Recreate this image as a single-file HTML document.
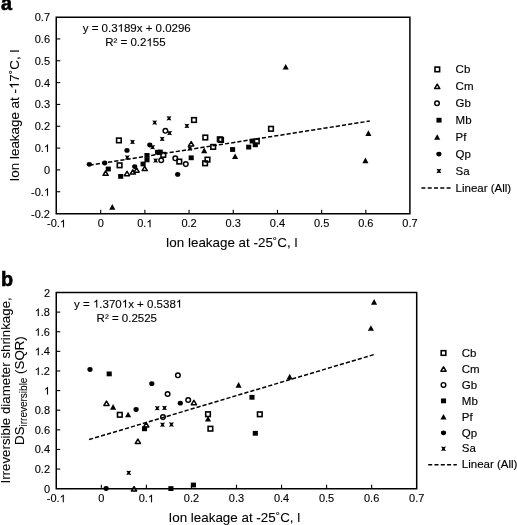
<!DOCTYPE html><html><head><meta charset="utf-8"><style>html,body{margin:0;padding:0;background:#fff;width:517px;height:525px;overflow:hidden}svg{display:block;will-change:transform}text{font-family:"Liberation Sans",sans-serif;fill:#000;stroke:#000;stroke-width:0.15px}.tk{stroke-width:0.12px}.ti{stroke-width:0.08px}.eq{stroke-width:0.12px}.pl{stroke-width:0.6px}.h1{fill:transparent!important;stroke:none!important}</style></head><body>
<svg width="517" height="525" viewBox="0 0 517 525">
<rect width="517" height="525" fill="#fff"/>
<line x1="89.60" y1="165.20" x2="369.80" y2="121.05" stroke="#000" stroke-width="1.5" stroke-dasharray="4.2 2.03"/>
<rect x="105.75" y="166.60" width="5.10" height="4.80" fill="#000"/>
<rect x="118.15" y="174.00" width="5.10" height="4.80" fill="#000"/>
<rect x="140.55" y="161.60" width="5.10" height="4.80" fill="#000"/>
<rect x="144.45" y="153.00" width="5.10" height="4.80" fill="#000"/>
<rect x="144.45" y="157.50" width="5.10" height="4.80" fill="#000"/>
<rect x="155.05" y="149.90" width="5.10" height="4.80" fill="#000"/>
<rect x="157.65" y="149.60" width="5.10" height="4.80" fill="#000"/>
<rect x="188.65" y="155.40" width="5.10" height="4.80" fill="#000"/>
<rect x="230.05" y="147.10" width="5.10" height="4.80" fill="#000"/>
<rect x="249.65" y="138.70" width="5.10" height="4.80" fill="#000"/>
<rect x="252.75" y="142.40" width="5.10" height="4.80" fill="#000"/>
<rect x="246.15" y="144.70" width="5.10" height="4.80" fill="#000"/>
<path d="M204.20 147.50L207.25 153.15L201.15 153.15Z" fill="#000"/>
<path d="M235.10 153.40L238.15 159.05L232.05 159.05Z" fill="#000"/>
<path d="M285.70 63.90L288.75 69.55L282.65 69.55Z" fill="#000"/>
<path d="M368.40 130.30L371.45 135.95L365.35 135.95Z" fill="#000"/>
<path d="M365.40 157.60L368.45 163.25L362.35 163.25Z" fill="#000"/>
<path d="M112.30 204.00L115.35 209.65L109.25 209.65Z" fill="#000"/>
<ellipse cx="89.30" cy="164.30" rx="2.60" ry="2.40" fill="#000"/>
<ellipse cx="104.70" cy="163.00" rx="2.60" ry="2.40" fill="#000"/>
<ellipse cx="127.00" cy="150.40" rx="2.60" ry="2.40" fill="#000"/>
<ellipse cx="134.70" cy="166.60" rx="2.60" ry="2.40" fill="#000"/>
<ellipse cx="149.80" cy="145.00" rx="2.60" ry="2.40" fill="#000"/>
<ellipse cx="177.70" cy="174.40" rx="2.60" ry="2.40" fill="#000"/>
<path d="M130.05 139.75L132.50 140.15L134.95 139.75L133.65 141.90L134.95 144.05L132.50 143.65L130.05 144.05L131.35 141.90Z" fill="#000"/>
<path d="M124.85 155.35L127.30 155.75L129.75 155.35L128.45 157.50L129.75 159.65L127.30 159.25L124.85 159.65L126.15 157.50Z" fill="#000"/>
<path d="M152.25 120.45L154.70 120.85L157.15 120.45L155.85 122.60L157.15 124.75L154.70 124.35L152.25 124.75L153.55 122.60Z" fill="#000"/>
<path d="M166.55 116.15L169.00 116.55L171.45 116.15L170.15 118.30L171.45 120.45L169.00 120.05L166.55 120.45L167.85 118.30Z" fill="#000"/>
<path d="M184.45 123.75L186.90 124.15L189.35 123.75L188.05 125.90L189.35 128.05L186.90 127.65L184.45 128.05L185.75 125.90Z" fill="#000"/>
<path d="M167.15 130.95L169.60 131.35L172.05 130.95L170.75 133.10L172.05 135.25L169.60 134.85L167.15 135.25L168.45 133.10Z" fill="#000"/>
<path d="M159.75 136.75L162.20 137.15L164.65 136.75L163.35 138.90L164.65 141.05L162.20 140.65L159.75 141.05L161.05 138.90Z" fill="#000"/>
<path d="M150.15 145.05L152.60 145.45L155.05 145.05L153.75 147.20L155.05 149.35L152.60 148.95L150.15 149.35L151.45 147.20Z" fill="#000"/>
<path d="M153.15 158.45L155.60 158.85L158.05 158.45L156.75 160.60L158.05 162.75L155.60 162.35L153.15 162.75L154.45 160.60Z" fill="#000"/>
<path d="M187.35 146.35L189.80 146.75L192.25 146.35L190.95 148.50L192.25 150.65L189.80 150.25L187.35 150.65L188.65 148.50Z" fill="#000"/>
<rect x="116.60" y="138.10" width="4.60" height="4.60" fill="none" stroke="#000" stroke-width="1.6"/>
<rect x="117.30" y="163.00" width="4.60" height="4.60" fill="none" stroke="#000" stroke-width="1.6"/>
<rect x="191.70" y="117.70" width="4.60" height="4.60" fill="none" stroke="#000" stroke-width="1.6"/>
<rect x="177.00" y="159.30" width="4.60" height="4.60" fill="none" stroke="#000" stroke-width="1.6"/>
<rect x="203.00" y="135.20" width="4.60" height="4.60" fill="none" stroke="#000" stroke-width="1.6"/>
<rect x="210.90" y="144.60" width="4.60" height="4.60" fill="none" stroke="#000" stroke-width="1.6"/>
<rect x="218.70" y="137.60" width="4.60" height="4.60" fill="none" stroke="#000" stroke-width="1.6"/>
<rect x="205.20" y="157.30" width="4.60" height="4.60" fill="none" stroke="#000" stroke-width="1.6"/>
<rect x="202.80" y="161.00" width="4.60" height="4.60" fill="none" stroke="#000" stroke-width="1.6"/>
<rect x="217.50" y="137.00" width="4.60" height="4.60" fill="none" stroke="#000" stroke-width="1.6"/>
<rect x="268.70" y="126.50" width="4.60" height="4.60" fill="none" stroke="#000" stroke-width="1.6"/>
<rect x="254.50" y="139.00" width="4.60" height="4.60" fill="none" stroke="#000" stroke-width="1.6"/>
<rect x="161.00" y="152.60" width="4.60" height="4.60" fill="none" stroke="#000" stroke-width="1.6"/>
<path d="M105.60 171.00L108.20 175.30L103.00 175.30Z" fill="none" stroke="#000" stroke-width="1.5" stroke-linejoin="round"/>
<path d="M127.00 171.40L129.60 175.70L124.40 175.70Z" fill="none" stroke="#000" stroke-width="1.5" stroke-linejoin="round"/>
<path d="M132.80 169.80L135.40 174.10L130.20 174.10Z" fill="none" stroke="#000" stroke-width="1.5" stroke-linejoin="round"/>
<path d="M136.60 167.90L139.20 172.20L134.00 172.20Z" fill="none" stroke="#000" stroke-width="1.5" stroke-linejoin="round"/>
<path d="M144.70 166.30L147.30 170.60L142.10 170.60Z" fill="none" stroke="#000" stroke-width="1.5" stroke-linejoin="round"/>
<path d="M191.20 141.60L193.80 145.90L188.60 145.90Z" fill="none" stroke="#000" stroke-width="1.5" stroke-linejoin="round"/>
<circle cx="165.40" cy="130.80" r="2.30" fill="none" stroke="#000" stroke-width="1.45"/>
<circle cx="161.20" cy="160.20" r="2.30" fill="none" stroke="#000" stroke-width="1.45"/>
<circle cx="175.30" cy="158.30" r="2.30" fill="none" stroke="#000" stroke-width="1.45"/>
<circle cx="185.80" cy="164.10" r="2.30" fill="none" stroke="#000" stroke-width="1.45"/>
<path d="M56.25 17.25H409.9V213.8H56.25Z" fill="none" stroke="#000" stroke-width="1.5" stroke-linejoin="miter"/>
<text class="tk" x="50.00" y="217.57" font-size="11" text-anchor="end">-0.2</text>
<line x1="56.25" y1="191.74" x2="60.25" y2="191.74" stroke="#000" stroke-width="1.1"/>
<text class="tk" x="50.00" y="195.74" font-size="11" text-anchor="end">-0.<tspan class="h1">1</tspan></text>
<line x1="56.25" y1="169.91" x2="60.25" y2="169.91" stroke="#000" stroke-width="1.1"/>
<text class="tk" x="50.00" y="173.91" font-size="11" text-anchor="end">0</text>
<line x1="56.25" y1="148.08" x2="60.25" y2="148.08" stroke="#000" stroke-width="1.1"/>
<text class="tk" x="50.00" y="152.08" font-size="11" text-anchor="end">0.<tspan class="h1">1</tspan></text>
<line x1="56.25" y1="126.25" x2="60.25" y2="126.25" stroke="#000" stroke-width="1.1"/>
<text class="tk" x="50.00" y="130.25" font-size="11" text-anchor="end">0.2</text>
<line x1="56.25" y1="104.42" x2="60.25" y2="104.42" stroke="#000" stroke-width="1.1"/>
<text class="tk" x="50.00" y="108.42" font-size="11" text-anchor="end">0.3</text>
<line x1="56.25" y1="82.59" x2="60.25" y2="82.59" stroke="#000" stroke-width="1.1"/>
<text class="tk" x="50.00" y="86.59" font-size="11" text-anchor="end">0.4</text>
<line x1="56.25" y1="60.76" x2="60.25" y2="60.76" stroke="#000" stroke-width="1.1"/>
<text class="tk" x="50.00" y="64.76" font-size="11" text-anchor="end">0.5</text>
<line x1="56.25" y1="38.93" x2="60.25" y2="38.93" stroke="#000" stroke-width="1.1"/>
<text class="tk" x="50.00" y="42.93" font-size="11" text-anchor="end">0.6</text>
<text class="tk" x="50.00" y="21.10" font-size="11" text-anchor="end">0.7</text>
<text class="tk" x="56.50" y="227.30" font-size="11" text-anchor="middle">-0.<tspan class="h1">1</tspan></text>
<line x1="100.69" y1="213.8" x2="100.69" y2="209.80" stroke="#000" stroke-width="1.1"/>
<text class="tk" x="100.69" y="227.30" font-size="11" text-anchor="middle">0</text>
<line x1="144.88" y1="213.8" x2="144.88" y2="209.80" stroke="#000" stroke-width="1.1"/>
<text class="tk" x="144.88" y="227.30" font-size="11" text-anchor="middle">0.<tspan class="h1">1</tspan></text>
<line x1="189.07" y1="213.8" x2="189.07" y2="209.80" stroke="#000" stroke-width="1.1"/>
<text class="tk" x="189.07" y="227.30" font-size="11" text-anchor="middle">0.2</text>
<line x1="233.26" y1="213.8" x2="233.26" y2="209.80" stroke="#000" stroke-width="1.1"/>
<text class="tk" x="233.26" y="227.30" font-size="11" text-anchor="middle">0.3</text>
<line x1="277.45" y1="213.8" x2="277.45" y2="209.80" stroke="#000" stroke-width="1.1"/>
<text class="tk" x="277.45" y="227.30" font-size="11" text-anchor="middle">0.4</text>
<line x1="321.64" y1="213.8" x2="321.64" y2="209.80" stroke="#000" stroke-width="1.1"/>
<text class="tk" x="321.64" y="227.30" font-size="11" text-anchor="middle">0.5</text>
<line x1="365.83" y1="213.8" x2="365.83" y2="209.80" stroke="#000" stroke-width="1.1"/>
<text class="tk" x="365.83" y="227.30" font-size="11" text-anchor="middle">0.6</text>
<text class="tk" x="410.02" y="227.30" font-size="11" text-anchor="middle">0.7</text>
<text class="eq" x="82.7" y="31.8" font-size="11.5">y = 0.3<tspan class="h1">1</tspan>89x + 0.0296</text>
<text class="eq" x="105.2" y="46.2" font-size="11.5">R² = 0.2<tspan class="h1">1</tspan>55</text>
<rect x="435.00" y="67.10" width="4.60" height="4.60" fill="none" stroke="#000" stroke-width="1.6"/>
<text x="455.6" y="73.10" font-size="11.5">Cb</text>
<path d="M437.20 84.23L439.80 88.53L434.60 88.53Z" fill="none" stroke="#000" stroke-width="1.5" stroke-linejoin="round"/>
<text x="455.6" y="90.03" font-size="11.5">Cm</text>
<circle cx="437.00" cy="103.26" r="2.30" fill="none" stroke="#000" stroke-width="1.45"/>
<text x="455.6" y="106.96" font-size="11.5">Gb</text>
<rect x="436.45" y="117.79" width="5.10" height="4.80" fill="#000"/>
<text x="455.6" y="123.89" font-size="11.5">Mb</text>
<path d="M437.20 134.22L440.25 139.87L434.15 139.87Z" fill="#000"/>
<text x="455.6" y="140.82" font-size="11.5">Pf</text>
<ellipse cx="438.90" cy="154.05" rx="2.60" ry="2.40" fill="#000"/>
<text x="455.6" y="157.75" font-size="11.5">Qp</text>
<path d="M436.45 168.83L438.90 169.23L441.35 168.83L440.05 170.98L441.35 173.13L438.90 172.73L436.45 173.13L437.75 170.98Z" fill="#000"/>
<text x="455.6" y="174.68" font-size="11.5">Sa</text>
<line x1="421.4" y1="187.91" x2="450.6" y2="187.91" stroke="#000" stroke-width="1.5" stroke-dasharray="4 2.3"/>
<text x="455.6" y="191.61" font-size="11.5">Linear (All)</text>
<line x1="89.10" y1="439.57" x2="374.50" y2="354.42" stroke="#000" stroke-width="1.5" stroke-dasharray="4.2 2.03"/>
<rect x="106.65" y="371.50" width="5.10" height="4.80" fill="#000"/>
<rect x="141.95" y="426.40" width="5.10" height="4.80" fill="#000"/>
<rect x="249.45" y="394.90" width="5.10" height="4.80" fill="#000"/>
<rect x="252.75" y="430.90" width="5.10" height="4.80" fill="#000"/>
<rect x="168.35" y="486.20" width="5.10" height="4.80" fill="#000"/>
<rect x="190.85" y="482.60" width="5.10" height="4.80" fill="#000"/>
<path d="M113.10 404.10L116.15 409.75L110.05 409.75Z" fill="#000"/>
<path d="M128.10 411.70L131.15 417.35L125.05 417.35Z" fill="#000"/>
<path d="M238.60 382.10L241.65 387.75L235.55 387.75Z" fill="#000"/>
<path d="M208.00 415.90L211.05 421.55L204.95 421.55Z" fill="#000"/>
<path d="M289.70 373.80L292.75 379.45L286.65 379.45Z" fill="#000"/>
<path d="M370.90 325.20L373.95 330.85L367.85 330.85Z" fill="#000"/>
<path d="M374.10 299.10L377.15 304.75L371.05 304.75Z" fill="#000"/>
<ellipse cx="90.00" cy="369.50" rx="2.60" ry="2.40" fill="#000"/>
<ellipse cx="151.80" cy="383.70" rx="2.60" ry="2.40" fill="#000"/>
<ellipse cx="180.30" cy="403.20" rx="2.60" ry="2.40" fill="#000"/>
<ellipse cx="136.10" cy="409.50" rx="2.60" ry="2.40" fill="#000"/>
<ellipse cx="106.10" cy="488.50" rx="2.60" ry="2.40" fill="#000"/>
<path d="M154.85 406.05L157.30 406.45L159.75 406.05L158.45 408.20L159.75 410.35L157.30 409.95L154.85 410.35L156.15 408.20Z" fill="#000"/>
<path d="M162.05 405.75L164.50 406.15L166.95 405.75L165.65 407.90L166.95 410.05L164.50 409.65L162.05 410.05L163.35 407.90Z" fill="#000"/>
<path d="M160.05 422.55L162.50 422.95L164.95 422.55L163.65 424.70L164.95 426.85L162.50 426.45L160.05 426.85L161.35 424.70Z" fill="#000"/>
<path d="M168.95 422.35L171.40 422.75L173.85 422.35L172.55 424.50L173.85 426.65L171.40 426.25L168.95 426.65L170.25 424.50Z" fill="#000"/>
<path d="M126.25 470.65L128.70 471.05L131.15 470.65L129.85 472.80L131.15 474.95L128.70 474.55L126.25 474.95L127.55 472.80Z" fill="#000"/>
<rect x="117.50" y="412.50" width="4.60" height="4.60" fill="none" stroke="#000" stroke-width="1.6"/>
<rect x="205.70" y="411.90" width="4.60" height="4.60" fill="none" stroke="#000" stroke-width="1.6"/>
<rect x="208.10" y="426.40" width="4.60" height="4.60" fill="none" stroke="#000" stroke-width="1.6"/>
<rect x="257.50" y="412.00" width="4.60" height="4.60" fill="none" stroke="#000" stroke-width="1.6"/>
<path d="M106.50 401.10L109.10 405.40L103.90 405.40Z" fill="none" stroke="#000" stroke-width="1.5" stroke-linejoin="round"/>
<path d="M146.20 422.60L148.80 426.90L143.60 426.90Z" fill="none" stroke="#000" stroke-width="1.5" stroke-linejoin="round"/>
<path d="M137.90 439.10L140.50 443.40L135.30 443.40Z" fill="none" stroke="#000" stroke-width="1.5" stroke-linejoin="round"/>
<path d="M193.90 400.40L196.50 404.70L191.30 404.70Z" fill="none" stroke="#000" stroke-width="1.5" stroke-linejoin="round"/>
<path d="M134.00 486.70L136.60 491.00L131.40 491.00Z" fill="none" stroke="#000" stroke-width="1.5" stroke-linejoin="round"/>
<circle cx="177.90" cy="375.30" r="2.30" fill="none" stroke="#000" stroke-width="1.45"/>
<circle cx="167.60" cy="394.00" r="2.30" fill="none" stroke="#000" stroke-width="1.45"/>
<circle cx="188.20" cy="400.00" r="2.30" fill="none" stroke="#000" stroke-width="1.45"/>
<circle cx="163.00" cy="417.10" r="2.30" fill="none" stroke="#000" stroke-width="1.45"/>
<path d="M56.25 292.4H416.7V488.7H56.25Z" fill="none" stroke="#000" stroke-width="1.5" stroke-linejoin="miter"/>
<text class="tk" x="50.00" y="492.70" font-size="11" text-anchor="end">0</text>
<line x1="56.25" y1="469.08" x2="60.25" y2="469.08" stroke="#000" stroke-width="1.1"/>
<text class="tk" x="50.00" y="473.08" font-size="11" text-anchor="end">0.2</text>
<line x1="56.25" y1="449.46" x2="60.25" y2="449.46" stroke="#000" stroke-width="1.1"/>
<text class="tk" x="50.00" y="453.46" font-size="11" text-anchor="end">0.4</text>
<line x1="56.25" y1="429.84" x2="60.25" y2="429.84" stroke="#000" stroke-width="1.1"/>
<text class="tk" x="50.00" y="433.84" font-size="11" text-anchor="end">0.6</text>
<line x1="56.25" y1="410.22" x2="60.25" y2="410.22" stroke="#000" stroke-width="1.1"/>
<text class="tk" x="50.00" y="414.22" font-size="11" text-anchor="end">0.8</text>
<line x1="56.25" y1="390.60" x2="60.25" y2="390.60" stroke="#000" stroke-width="1.1"/>
<text class="tk" x="50.00" y="394.60" font-size="11" text-anchor="end"><tspan class="h1">1</tspan></text>
<line x1="56.25" y1="370.98" x2="60.25" y2="370.98" stroke="#000" stroke-width="1.1"/>
<text class="tk" x="50.00" y="374.98" font-size="11" text-anchor="end"><tspan class="h1">1</tspan>.2</text>
<line x1="56.25" y1="351.36" x2="60.25" y2="351.36" stroke="#000" stroke-width="1.1"/>
<text class="tk" x="50.00" y="355.36" font-size="11" text-anchor="end"><tspan class="h1">1</tspan>.4</text>
<line x1="56.25" y1="331.74" x2="60.25" y2="331.74" stroke="#000" stroke-width="1.1"/>
<text class="tk" x="50.00" y="335.74" font-size="11" text-anchor="end"><tspan class="h1">1</tspan>.6</text>
<line x1="56.25" y1="312.12" x2="60.25" y2="312.12" stroke="#000" stroke-width="1.1"/>
<text class="tk" x="50.00" y="316.12" font-size="11" text-anchor="end"><tspan class="h1">1</tspan>.8</text>
<text class="tk" x="50.00" y="296.50" font-size="11" text-anchor="end">2</text>
<text class="tk" x="56.30" y="502.20" font-size="11" text-anchor="middle">-0.<tspan class="h1">1</tspan></text>
<line x1="101.35" y1="488.7" x2="101.35" y2="484.70" stroke="#000" stroke-width="1.1"/>
<text class="tk" x="101.35" y="502.20" font-size="11" text-anchor="middle">0</text>
<line x1="146.40" y1="488.7" x2="146.40" y2="484.70" stroke="#000" stroke-width="1.1"/>
<text class="tk" x="146.40" y="502.20" font-size="11" text-anchor="middle">0.<tspan class="h1">1</tspan></text>
<line x1="191.45" y1="488.7" x2="191.45" y2="484.70" stroke="#000" stroke-width="1.1"/>
<text class="tk" x="191.45" y="502.20" font-size="11" text-anchor="middle">0.2</text>
<line x1="236.50" y1="488.7" x2="236.50" y2="484.70" stroke="#000" stroke-width="1.1"/>
<text class="tk" x="236.50" y="502.20" font-size="11" text-anchor="middle">0.3</text>
<line x1="281.55" y1="488.7" x2="281.55" y2="484.70" stroke="#000" stroke-width="1.1"/>
<text class="tk" x="281.55" y="502.20" font-size="11" text-anchor="middle">0.4</text>
<line x1="326.60" y1="488.7" x2="326.60" y2="484.70" stroke="#000" stroke-width="1.1"/>
<text class="tk" x="326.60" y="502.20" font-size="11" text-anchor="middle">0.5</text>
<line x1="371.65" y1="488.7" x2="371.65" y2="484.70" stroke="#000" stroke-width="1.1"/>
<text class="tk" x="371.65" y="502.20" font-size="11" text-anchor="middle">0.6</text>
<text class="tk" x="416.70" y="502.20" font-size="11" text-anchor="middle">0.7</text>
<text class="eq" x="74.1" y="307.6" font-size="11.5">y = <tspan class="h1">1</tspan>.370<tspan class="h1">1</tspan>x + 0.538<tspan class="h1">1</tspan></text>
<text class="eq" x="96.6" y="322.0" font-size="11.5">R² = 0.2525</text>
<rect x="441.20" y="350.70" width="4.60" height="4.60" fill="none" stroke="#000" stroke-width="1.6"/>
<text x="461.8" y="356.70" font-size="11.5">Cb</text>
<path d="M443.50 366.86L446.10 371.16L440.90 371.16Z" fill="none" stroke="#000" stroke-width="1.5" stroke-linejoin="round"/>
<text x="461.8" y="372.66" font-size="11.5">Cm</text>
<circle cx="443.50" cy="384.92" r="2.30" fill="none" stroke="#000" stroke-width="1.45"/>
<text x="461.8" y="388.62" font-size="11.5">Gb</text>
<rect x="440.95" y="398.48" width="5.10" height="4.80" fill="#000"/>
<text x="461.8" y="404.58" font-size="11.5">Mb</text>
<path d="M443.50 413.94L446.55 419.59L440.45 419.59Z" fill="#000"/>
<text x="461.8" y="420.54" font-size="11.5">Pf</text>
<ellipse cx="443.50" cy="432.80" rx="2.60" ry="2.40" fill="#000"/>
<text x="461.8" y="436.50" font-size="11.5">Qp</text>
<path d="M441.05 446.61L443.50 447.01L445.95 446.61L444.65 448.76L445.95 450.91L443.50 450.51L441.05 450.91L442.35 448.76Z" fill="#000"/>
<text x="461.8" y="452.46" font-size="11.5">Sa</text>
<line x1="428.2" y1="464.72" x2="456.8" y2="464.72" stroke="#000" stroke-width="1.5" stroke-dasharray="4 2.3"/>
<text x="461.8" y="468.42" font-size="11.5">Linear (All)</text>
<text class="pl" x="1.0" y="10.3" font-size="19.8" font-weight="bold">a</text>
<text class="pl" x="1.1" y="285.9" font-size="19.8" font-weight="bold">b</text>
<text class="ti" x="231.5" y="246.6" font-size="13.4" text-anchor="middle">Ion leakage at -25˚C, l</text>
<text class="ti" x="234.4" y="521.6" font-size="13.4" text-anchor="middle">Ion leakage at -25˚C, l</text>
<text class="ti" transform="translate(18.8 115.5) rotate(-90)" font-size="13.4" text-anchor="middle">Ion leakage at -<tspan class="h1">1</tspan>7˚C, l</text>
<text class="ti" transform="translate(9.6 390.4) rotate(-90)" font-size="13.3" text-anchor="middle">Irreversible diameter shrinkage,</text>
<text class="ti" transform="translate(23.5 390.6) rotate(-90)" font-size="13.3" text-anchor="middle">DS<tspan font-size="10" dy="3.4">irreversible</tspan><tspan dy="-3.4"> (SQR)</tspan></text>
<path d="M763 0L583 0L583 1102Q518 1043 416 984Q312 926 221 893L221 1060Q372 1128 484 1225Q597 1322 640 1409L763 1409Z" transform="translate(43.88 195.74) scale(0.005371 -0.005371)" fill="#000" stroke="#000" stroke-width="0.12" vector-effect="non-scaling-stroke"/>
<path d="M763 0L583 0L583 1102Q518 1043 416 984Q312 926 221 893L221 1060Q372 1128 484 1225Q597 1322 640 1409L763 1409Z" transform="translate(43.88 152.08) scale(0.005371 -0.005371)" fill="#000" stroke="#000" stroke-width="0.12" vector-effect="non-scaling-stroke"/>
<path d="M763 0L583 0L583 1102Q518 1043 416 984Q312 926 221 893L221 1060Q372 1128 484 1225Q597 1322 640 1409L763 1409Z" transform="translate(59.86 227.30) scale(0.005371 -0.005371)" fill="#000" stroke="#000" stroke-width="0.12" vector-effect="non-scaling-stroke"/>
<path d="M763 0L583 0L583 1102Q518 1043 416 984Q312 926 221 893L221 1060Q372 1128 484 1225Q597 1322 640 1409L763 1409Z" transform="translate(146.41 227.30) scale(0.005371 -0.005371)" fill="#000" stroke="#000" stroke-width="0.12" vector-effect="non-scaling-stroke"/>
<path d="M763 0L583 0L583 1102Q518 1043 416 984Q312 926 221 893L221 1060Q372 1128 484 1225Q597 1322 640 1409L763 1409Z" transform="translate(117.54 31.80) scale(0.005615 -0.005615)" fill="#000" stroke="#000" stroke-width="0.12" vector-effect="non-scaling-stroke"/>
<path d="M763 0L583 0L583 1102Q518 1043 416 984Q312 926 221 893L221 1060Q372 1128 484 1225Q597 1322 640 1409L763 1409Z" transform="translate(146.43 46.20) scale(0.005615 -0.005615)" fill="#000" stroke="#000" stroke-width="0.12" vector-effect="non-scaling-stroke"/>
<path d="M763 0L583 0L583 1102Q518 1043 416 984Q312 926 221 893L221 1060Q372 1128 484 1225Q597 1322 640 1409L763 1409Z" transform="translate(43.88 394.60) scale(0.005371 -0.005371)" fill="#000" stroke="#000" stroke-width="0.12" vector-effect="non-scaling-stroke"/>
<path d="M763 0L583 0L583 1102Q518 1043 416 984Q312 926 221 893L221 1060Q372 1128 484 1225Q597 1322 640 1409L763 1409Z" transform="translate(34.69 374.98) scale(0.005371 -0.005371)" fill="#000" stroke="#000" stroke-width="0.12" vector-effect="non-scaling-stroke"/>
<path d="M763 0L583 0L583 1102Q518 1043 416 984Q312 926 221 893L221 1060Q372 1128 484 1225Q597 1322 640 1409L763 1409Z" transform="translate(34.69 355.36) scale(0.005371 -0.005371)" fill="#000" stroke="#000" stroke-width="0.12" vector-effect="non-scaling-stroke"/>
<path d="M763 0L583 0L583 1102Q518 1043 416 984Q312 926 221 893L221 1060Q372 1128 484 1225Q597 1322 640 1409L763 1409Z" transform="translate(34.69 335.74) scale(0.005371 -0.005371)" fill="#000" stroke="#000" stroke-width="0.12" vector-effect="non-scaling-stroke"/>
<path d="M763 0L583 0L583 1102Q518 1043 416 984Q312 926 221 893L221 1060Q372 1128 484 1225Q597 1322 640 1409L763 1409Z" transform="translate(34.69 316.12) scale(0.005371 -0.005371)" fill="#000" stroke="#000" stroke-width="0.12" vector-effect="non-scaling-stroke"/>
<path d="M763 0L583 0L583 1102Q518 1043 416 984Q312 926 221 893L221 1060Q372 1128 484 1225Q597 1322 640 1409L763 1409Z" transform="translate(59.66 502.20) scale(0.005371 -0.005371)" fill="#000" stroke="#000" stroke-width="0.12" vector-effect="non-scaling-stroke"/>
<path d="M763 0L583 0L583 1102Q518 1043 416 984Q312 926 221 893L221 1060Q372 1128 484 1225Q597 1322 640 1409L763 1409Z" transform="translate(147.93 502.20) scale(0.005371 -0.005371)" fill="#000" stroke="#000" stroke-width="0.12" vector-effect="non-scaling-stroke"/>
<path d="M763 0L583 0L583 1102Q518 1043 416 984Q312 926 221 893L221 1060Q372 1128 484 1225Q597 1322 640 1409L763 1409Z" transform="translate(92.96 307.60) scale(0.005615 -0.005615)" fill="#000" stroke="#000" stroke-width="0.12" vector-effect="non-scaling-stroke"/>
<path d="M763 0L583 0L583 1102Q518 1043 416 984Q312 926 221 893L221 1060Q372 1128 484 1225Q597 1322 640 1409L763 1409Z" transform="translate(121.76 307.60) scale(0.005615 -0.005615)" fill="#000" stroke="#000" stroke-width="0.12" vector-effect="non-scaling-stroke"/>
<path d="M763 0L583 0L583 1102Q518 1043 416 984Q312 926 221 893L221 1060Q372 1128 484 1225Q597 1322 640 1409L763 1409Z" transform="translate(175.80 307.60) scale(0.005615 -0.005615)" fill="#000" stroke="#000" stroke-width="0.12" vector-effect="non-scaling-stroke"/>
<path d="M763 0L583 0L583 1102Q518 1043 416 984Q312 926 221 893L221 1060Q372 1128 484 1225Q597 1322 640 1409L763 1409Z" transform="translate(18.8 115.5) rotate(-90) translate(26.43 0.00) scale(0.006543 -0.006543)" fill="#000" stroke="#000" stroke-width="0.08" vector-effect="non-scaling-stroke"/>
</svg></body></html>
